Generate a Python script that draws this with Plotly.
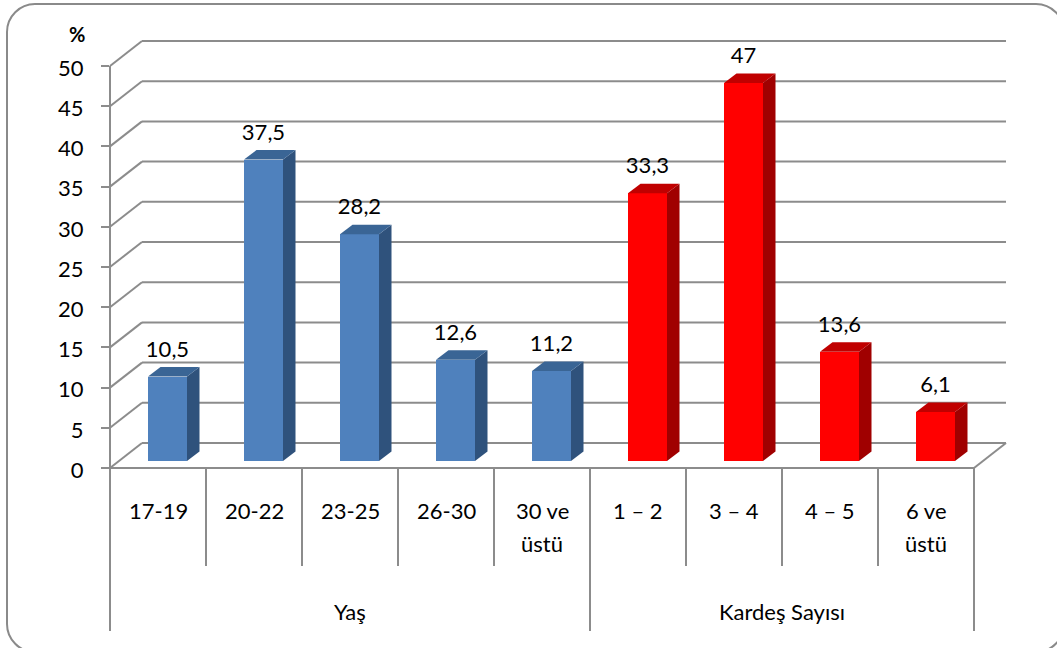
import plotly.graph_objects as go

# ---- data ----
age_categories = ["17-19", "20-22", "23-25", "26-30", "30 ve\nüstü"]
age_values = [10.5, 37.5, 28.2, 12.6, 11.2]
sibling_categories = ["1 – 2", "3 – 4", "4 – 5", "6 ve\nüstü"]
sibling_values = [33.3, 47, 13.6, 6.1]
value_labels = ["10,5", "37,5", "28,2", "12,6", "11,2", "33,3", "47", "13,6", "6,1"]
group_labels = ["Yaş", "Kardeş Sayısı"]
tick_values = [0, 5, 10, 15, 20, 25, 30, 35, 40, 45, 50]

# ---- style / geometry ----
W, H = 1057, 648
L, R, T, B = 110, 1007, 41, 468
PX_X = 96.0          # pixels per category
PX_Y = 8.04          # pixels per value unit
xu = lambda px: px / PX_X
yu = lambda px: px / PX_Y
WALL_DX, WALL_DY = xu(32), yu(25)      # depth of chart box
BAR_W = xu(39)
BAR_SHIFT = xu(9.5)
BAR_BASE = yu(7)
BAR_DX, BAR_DY = xu(12.5), yu(9.5)     # depth of bar
LABEL_GAP = yu(5)
GRID = "#8C8C8C"
FONT = "Lato"
TEXT = "#000000"
BLUE = ("#4F81BD", "#2F527C", "#3A6595")
RED = ("#FF0000", "#A00000", "#C00000")

values = age_values + sibling_values
categories = age_categories + sibling_categories
colors = [BLUE] * len(age_values) + [RED] * len(sibling_values)
centers = [i + 0.5 + BAR_SHIFT for i in range(len(values))]
n = len(values)

# paper-fraction helpers
px = lambda x: (x - L) / (R - L)
py = lambda y: (B - y) / (B - T)
data_x = lambda v: px(L + v * PX_X)
data_y = lambda v: py(B - v * PX_Y)

fig = go.Figure()

# front faces
fig.add_trace(go.Bar(
    x=centers, y=values, base=BAR_BASE, width=BAR_W,
    marker=dict(color=[c[0] for c in colors], line=dict(width=0)),
    hoverinfo="skip", showlegend=False))

# side and top faces, derived from the values
for cx, v, c in zip(centers, values, colors):
    x0, x1 = cx - BAR_W / 2, cx + BAR_W / 2
    y0, y1 = BAR_BASE, BAR_BASE + v
    fig.add_trace(go.Scatter(
        x=[x1, x1 + BAR_DX, x1 + BAR_DX, x1, x1],
        y=[y0, y0 + BAR_DY, y1 + BAR_DY, y1, y0],
        mode="lines", fill="toself", fillcolor=c[1], line=dict(width=0),
        hoverinfo="skip", showlegend=False))
    fig.add_trace(go.Scatter(
        x=[x0, x1, x1 + BAR_DX, x0 + BAR_DX, x0],
        y=[y1, y1, y1 + BAR_DY, y1 + BAR_DY, y1],
        mode="lines", fill="toself", fillcolor=c[2], line=dict(width=0),
        hoverinfo="skip", showlegend=False))

# value labels
fig.add_trace(go.Scatter(
    x=centers, y=[v + BAR_BASE + BAR_DY + LABEL_GAP for v in values],
    mode="text", text=value_labels, textposition="top center",
    textfont=dict(family=FONT, size=22, color=TEXT),
    cliponaxis=False, hoverinfo="skip", showlegend=False))

shapes = []

# rounded outer border (first, so that the lines stay on top of it)
bx0, by0, bx1, by1, rad = 7, 4, 1064, 652, 28
k = rad * 0.45
shapes.append(dict(
    type="path", xref="paper", yref="paper", layer="below",
    path=(f"M {px(bx0 + rad)} {py(by0)} L {px(bx1 - rad)} {py(by0)} "
          f"C {px(bx1 - k)} {py(by0)} {px(bx1)} {py(by0 + k)} {px(bx1)} {py(by0 + rad)} "
          f"L {px(bx1)} {py(by1 - rad)} "
          f"C {px(bx1)} {py(by1 - k)} {px(bx1 - k)} {py(by1)} {px(bx1 - rad)} {py(by1)} "
          f"L {px(bx0 + rad)} {py(by1)} "
          f"C {px(bx0 + k)} {py(by1)} {px(bx0)} {py(by1 - k)} {px(bx0)} {py(by1 - rad)} "
          f"L {px(bx0)} {py(by0 + rad)} "
          f"C {px(bx0)} {py(by0 + k)} {px(bx0 + k)} {py(by0)} {px(bx0 + rad)} {py(by0)} Z"),
    line=dict(color="#8A8A8A", width=2), fillcolor="white"))

# walls, floor and dividers
def line(x0, y0, x1, y1):
    shapes.append(dict(type="line", xref="paper", yref="paper",
                       x0=data_x(x0), y0=data_y(y0), x1=data_x(x1), y1=data_y(y1),
                       layer="below", line=dict(color=GRID, width=2)))

for t in tick_values:
    line(0, t, WALL_DX, t + WALL_DY)
    line(WALL_DX, t + WALL_DY, n + WALL_DX, t + WALL_DY)
line(n, 0, n + WALL_DX, WALL_DY)
line(0, 0, n, 0)
line(0, 0, 0, tick_values[-1])

SHORT, LONG = 566, 631
for i in range(n + 1):
    bottom = LONG if i in (0, len(age_values), n) else SHORT
    shapes.append(dict(type="line", xref="paper", yref="paper",
                       x0=data_x(i), x1=data_x(i), y0=py(B), y1=py(bottom),
                       layer="below", line=dict(color=GRID, width=2)))

# category and group labels
annotations = []
def label(xv, ypx, text, size=22, bold=False, xref="x"):
    annotations.append(dict(
        x=xv, y=py(ypx), xref=xref, yref="paper", text=f"<b>{text}</b>" if bold else text,
        showarrow=False, xanchor="center", yanchor="middle",
        font=dict(family=FONT, size=size, color=TEXT)))

for i, cat in enumerate(categories):
    for j, part in enumerate(cat.split("\n")):
        label(i + 0.5, 511 + j * 32, part)
label(len(age_values) / 2, 611, group_labels[0])
label(len(age_values) + len(sibling_values) / 2, 611, group_labels[1])
label(px(77), 34, "%", size=20, bold=True, xref="paper")

fig.update_layout(
    width=W, height=H,
    margin=dict(l=L, r=W - R, t=T, b=H - B, pad=0),
    paper_bgcolor="white", plot_bgcolor="rgba(0,0,0,0)",
    shapes=shapes, annotations=annotations, showlegend=False, bargap=0,
    xaxis=dict(range=[0, (R - L) / PX_X], visible=False, fixedrange=True),
    yaxis=dict(range=[0, (B - T) / PX_Y], tickmode="array", tickvals=tick_values,
               showgrid=False, zeroline=False, showline=False,
               ticks="outside", ticklen=8, tickwidth=2, tickcolor=GRID,
               ticklabelstandoff=13, ticklabelshift=2,
               tickfont=dict(family=FONT, size=22, color=TEXT), fixedrange=True),
)

fig.write_html("out.html", config=dict(displayModeBar=False),
               post_script="document.body.style.margin='0';document.body.style.overflow='hidden';")
